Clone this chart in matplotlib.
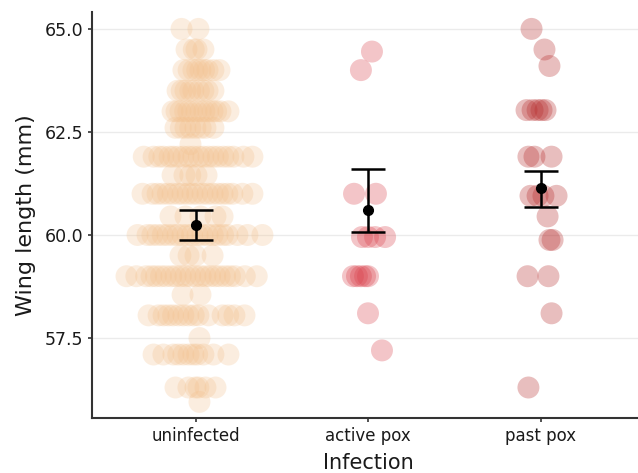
import matplotlib
matplotlib.use("Agg")
import matplotlib.pyplot as plt
import numpy as np

categories = ["uninfected", "active pox", "past pox"]
colors = ["#F3C08C", "#DA3F4A", "#B52828"]
alphas = [0.27, 0.3, 0.3]

# uninfected: wing length rows (mm) and the horizontal jitter of the points in each row
uninf_rows = [65.0, 64.5, 64.0, 63.5, 63.0, 62.6, 62.2, 61.9, 61.45, 61.0, 60.45, 60.0,
              59.5, 59.0, 58.55, 58.05, 57.5, 57.1, 56.3, 55.95]
uninf_jit = [
    [-0.081, 0.017],
    [-0.052, -0.010, 0.006, 0.046],
    [-0.070, -0.040, -0.012, 0.010, 0.029, 0.050, 0.070, 0.104, 0.139],
    [-0.104, -0.080, -0.058, -0.030, -0.012, 0.020, 0.046, 0.070, 0.104],
    [-0.133, -0.110, -0.087, -0.060, -0.041, -0.020, 0.006, 0.030, 0.052, 0.075, 0.099, 0.120, 0.145, 0.191],
    [-0.116, -0.085, -0.058, -0.030, 0.000, 0.030, 0.058, 0.104],
    [-0.029],
    [-0.300, -0.243, -0.210, -0.186, -0.150, -0.128, -0.100, -0.070, -0.040, -0.012,
     0.020, 0.046, 0.075, 0.104, 0.130, 0.162, 0.190, 0.220, 0.278, 0.330],
    [-0.133, -0.064, -0.030, 0.006, 0.064],
    [-0.307, -0.249, -0.220, -0.191, -0.160, -0.133, -0.100, -0.075, -0.045, -0.017,
     0.010, 0.041, 0.070, 0.099, 0.130, 0.157, 0.185, 0.214, 0.272, 0.330],
    [-0.145, -0.058, 0.029, 0.116, 0.157],
    [-0.336, -0.278, -0.250, -0.220, -0.190, -0.162, -0.130, -0.104, -0.075, -0.046, -0.020,
     0.012, 0.040, 0.070, 0.100, 0.128, 0.160, 0.186, 0.243, 0.301, 0.388],
    [-0.087, -0.040, 0.000, 0.099],
    [-0.400, -0.343, -0.286, -0.255, -0.229, -0.200, -0.172, -0.140, -0.115, -0.085, -0.058, -0.030,
     0.000, 0.030, 0.058, 0.085, 0.115, 0.140, 0.172, 0.200, 0.229, 0.286, 0.355],
    [-0.075, 0.029],
    [-0.272, -0.214, -0.185, -0.157, -0.130, -0.099, -0.070, -0.041, -0.010, 0.017, 0.075, 0.157, 0.190, 0.226, 0.284],
    [0.023],
    [-0.243, -0.186, -0.128, -0.100, -0.070, -0.040, -0.012, 0.010, 0.046, 0.104, 0.191],
    [-0.116, -0.041, 0.000, 0.017, 0.058, 0.116],
    [0.023],
]

active_y = [64.45, 64.0, 61.0, 61.0, 59.95, 59.95, 59.95, 59.95,
            59.0, 59.0, 59.0, 59.0, 59.0, 58.1, 57.2]
active_jit = [0.023, -0.041, -0.081, 0.046, -0.035, 0.000, 0.041, 0.099,
              -0.087, -0.064, -0.041, -0.017, 0.000, 0.000, 0.081]

past_y = [65.0, 64.5, 64.1, 63.03, 63.03, 63.03, 63.03, 63.03,
          61.9, 61.9, 61.9, 60.95, 60.95, 60.95, 60.95, 60.45,
          59.88, 59.88, 59.0, 59.0, 58.1, 56.3]
past_jit = [-0.052, 0.023, 0.052, -0.081, -0.046, -0.017, 0.006, 0.029,
            -0.070, -0.035, 0.064, -0.058, -0.017, 0.017, 0.093, 0.041,
            0.052, 0.070, -0.075, 0.046, 0.064, -0.070]

# group means with error bar limits
means = [60.24, 60.61, 61.14]
lower = [59.88, 60.07, 60.68]
upper = [60.60, 61.60, 61.55]

uninf_y = [v for v, js in zip(uninf_rows, uninf_jit) for _ in js]
uninf_x = [j for js in uninf_jit for j in js]
groups = [(uninf_y, uninf_x), (active_y, active_jit), (past_y, past_jit)]

fig = plt.figure(figsize=(6.38, 4.73), dpi=100)
ax = fig.add_axes([92 / 638, 55 / 473, 552 / 638, 406 / 473])

for i, (ys, jit) in enumerate(groups):
    xs = np.array(jit) + i + 1
    ax.scatter(xs, ys, s=250, color=colors[i], alpha=alphas[i], edgecolors="none", zorder=2)

pos = np.arange(1, 4)
ax.errorbar(pos, means,
            yerr=[np.array(means) - np.array(lower), np.array(upper) - np.array(means)],
            fmt="o", color="black", markersize=7, elinewidth=1.8, capsize=12, capthick=1.8, zorder=3)

ax.set_xlim(0.4, 3.6)
ax.set_ylim(55.56, 65.41)
ax.set_yticks([57.5, 60.0, 62.5, 65.0])
ax.set_yticklabels(["57.5", "60.0", "62.5", "65.0"])
ax.set_xticks(pos)
ax.set_xticklabels(categories)
ax.grid(axis="y", color="#EBEBEB", linewidth=1.0, zorder=0)
ax.set_axisbelow(True)

for s in ["top", "right"]:
    ax.spines[s].set_visible(False)
for s in ["left", "bottom"]:
    ax.spines[s].set_color("#333333")
    ax.spines[s].set_linewidth(1.5)
ax.tick_params(axis="both", colors="#333333", length=3, width=1.2, labelsize=12.5, labelcolor="#1a1a1a")
ax.tick_params(axis="x", labelsize=12)

ax.set_ylabel("Wing length (mm)", fontsize=16, color="#1a1a1a", labelpad=6)
ax.set_xlabel("Infection", fontsize=15, color="#1a1a1a", labelpad=6)

fig.savefig("out.png", dpi=100)
plt.close()
